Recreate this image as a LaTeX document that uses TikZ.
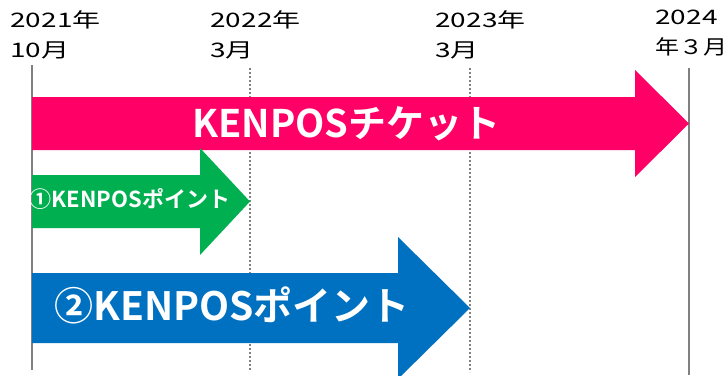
\documentclass[tikz,border=0pt]{standalone}
\usepackage{fontspec}
\newfontfamily\jpfont{Noto Sans CJK JP}[BoldFont={Noto Sans CJK JP Bold}]
\newfontfamily\datefont{Noto Sans CJK JP}[FakeStretch=1.4]
\definecolor{ticketpink}{HTML}{FF0066}
\definecolor{pointgreen}{HTML}{00B050}
\definecolor{pointblue}{HTML}{0070C0}
\definecolor{axisgray}{HTML}{808080}

\begin{document}
\begin{tikzpicture}[x=1pt, y=-1pt, thick,
    axis/.style = {draw=axisgray, line width=2pt},
    mark line/.style = {draw=axisgray, line width=2pt, dash pattern=on 2pt off 2pt},
    date/.style = {anchor=north west, inner sep=0pt, align=left, font=\datefont\fontsize{20}{30}\selectfont},
    label/.style = {text=white, inner sep=0pt, font=\jpfont\bfseries}]
          \useasboundingbox (0,0) rectangle (727,375);

          % time points
          \coordinate (t_0) at (32,0);
          \coordinate (t_1) at (250,0);
          \coordinate (t_2) at (470,0);
          \coordinate (t_3) at (689,0);

          \node[date] (d_0) at (10,10) {2021年\\10月};
          \node[date] (d_1) at (210,10) {2022年\\3月};
          \node[date] (d_2) at (435,10) {2023年\\3月};
          \node[date] (d_3) at (655,10) {2024\\\addfontfeature{FakeStretch=1.2}年３月};

          \draw[axis] (t_0 |- 0,65) -- (t_0 |- 0,370);
          \draw[mark line] (t_1 |- 0,68) -- (t_1 |- 0,370);
          \draw[mark line] (t_2 |- 0,68) -- (t_2 |- 0,372);
          \draw[axis] (t_3 |- 0,68) -- (t_3 |- 0,375);

          % arrows
          \fill[ticketpink] (32,97) -- (635,97) -- (635,70) -- (689,123.5) -- (635,177) -- (635,150) -- (32,150) -- cycle;
          \fill[pointgreen] (32,175) -- (200,175) -- (200,148) -- (250,201.5) -- (200,255) -- (200,228) -- (32,228) -- cycle;
          \fill[pointblue] (32,273) -- (398,273) -- (398,237) -- (470,308) -- (398,379) -- (398,343) -- (32,343) -- cycle;

          \node[label, font=\jpfont\bfseries\fontsize{38}{40}\selectfont] (ticket) at (346.5,124) {KENPOSチケット};
          \node[label, font=\jpfont\bfseries\fontsize{22}{24}\selectfont] (point_1) at (130,199) {①KENPOSポイント};
          \node[label, font=\jpfont\bfseries\fontsize{39}{41}\selectfont] (point_2) at (232,305) {②KENPOSポイント};
        \end{tikzpicture}
\end{document}
